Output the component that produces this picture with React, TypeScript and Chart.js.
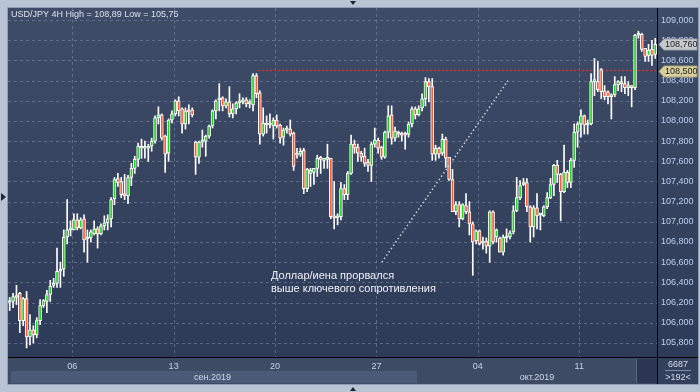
import React, { useEffect, useRef } from 'react';
import { Chart, registerables } from 'chart.js';

Chart.register(...registerables);

// ---- data (USD/JPY 4H, 192 visible bars) ----
const opens = [
  106.20, 106.21, 106.25, 106.29, 106.02, 106.24, 105.86, 105.93, 105.88, 106.02,
  106.17, 106.21, 106.28, 106.37, 106.39, 106.51, 106.53, 106.85, 106.92, 106.92,
  107.02, 106.94, 107.03, 106.83, 106.84, 106.88, 106.93, 106.88, 106.96, 106.99,
  107.03, 107.23, 107.43, 107.40, 107.28, 107.26, 107.44, 107.53, 107.62, 107.74,
  107.73, 107.73, 107.75, 107.80, 108.03, 108.06, 107.85, 107.68, 108.01, 108.07,
  108.20, 108.12, 107.97, 108.10, 108.11, 107.79, 107.64, 107.79, 107.80, 107.85,
  107.95, 108.10, 108.21, 108.23, 108.15, 108.19, 108.07, 108.12, 108.18, 108.19,
  108.21, 108.17, 108.16, 108.45, 108.28, 107.87, 107.98, 107.96, 107.95, 108.01,
  107.96, 107.84, 107.91, 107.92, 107.88, 107.67, 107.67, 107.71, 107.33, 107.48,
  107.49, 107.53, 107.63, 107.61, 107.62, 107.63, 107.06, 107.04, 107.05, 107.33,
  107.27, 107.48, 107.77, 107.74, 107.68, 107.65, 107.59, 107.56, 107.77, 107.81,
  107.74, 107.64, 107.89, 108.06, 107.83, 107.88, 107.88, 107.88, 107.87, 107.97,
  108.12, 108.06, 108.13, 108.22, 108.39, 108.34, 107.67, 107.73, 107.68, 107.82,
  107.64, 107.42, 107.10, 107.17, 107.03, 107.16, 107.10, 106.98, 106.81, 106.91,
  106.79, 106.81, 106.76, 107.10, 106.85, 106.84, 106.70, 106.84, 106.85, 106.90,
  107.11, 107.24, 107.37, 107.39, 107.15, 106.95, 107.14, 107.07, 107.06, 107.15,
  107.24, 107.37, 107.56, 107.47, 107.30, 107.49, 107.39, 107.61, 107.89, 107.97,
  108.05, 107.96, 107.97, 108.39, 108.39, 108.51, 108.30, 108.29, 108.24, 108.26,
  108.36, 108.39, 108.37, 108.33, 108.34, 108.33, 108.85, 108.86, 108.72, 108.65,
  108.71, 108.66,
];
const highs = [
  106.25, 106.29, 106.37, 106.30, 106.25, 106.31, 106.08, 105.97, 106.05, 106.23,
  106.23, 106.32, 106.42, 106.44, 106.74, 106.60, 106.92, 107.22, 107.01, 107.08,
  107.08, 107.04, 107.07, 106.92, 106.92, 107.01, 106.95, 106.98, 107.06, 107.07,
  107.24, 107.44, 107.48, 107.44, 107.47, 107.46, 107.58, 107.65, 107.78, 107.82,
  107.80, 107.77, 107.83, 108.05, 108.14, 108.07, 107.86, 108.02, 108.10, 108.21,
  108.24, 108.13, 108.13, 108.16, 108.13, 107.80, 107.80, 107.91, 107.86, 107.96,
  108.11, 108.21, 108.37, 108.24, 108.22, 108.34, 108.17, 108.19, 108.27, 108.23,
  108.23, 108.21, 108.47, 108.47, 108.30, 108.13, 108.05, 108.07, 108.03, 108.06,
  107.97, 107.93, 107.95, 108.01, 107.89, 107.73, 107.73, 107.73, 107.53, 107.53,
  107.53, 107.66, 107.65, 107.63, 107.77, 107.63, 107.40, 107.08, 107.39, 107.37,
  107.50, 107.86, 107.81, 107.77, 107.70, 107.73, 107.62, 107.79, 107.93, 107.83,
  107.75, 107.90, 108.15, 108.15, 107.94, 107.90, 107.89, 107.89, 107.99, 108.14,
  108.14, 108.15, 108.27, 108.43, 108.42, 108.42, 107.76, 107.74, 107.87, 107.84,
  107.64, 107.52, 107.20, 107.20, 107.18, 107.28, 107.20, 107.00, 106.92, 106.92,
  106.85, 106.84, 107.11, 107.11, 106.93, 106.85, 106.87, 106.93, 106.91, 107.16,
  107.44, 107.41, 107.43, 107.43, 107.16, 107.16, 107.28, 107.08, 107.16, 107.29,
  107.43, 107.57, 107.61, 107.48, 107.76, 107.51, 107.63, 107.97, 107.99, 108.11,
  108.06, 108.01, 108.47, 108.62, 108.59, 108.52, 108.35, 108.30, 108.27, 108.44,
  108.40, 108.44, 108.44, 108.39, 108.35, 108.86, 108.89, 108.87, 108.72, 108.76,
  108.80, 108.82,
];
const lows = [
  106.12, 106.15, 106.18, 105.90, 105.97, 105.75, 105.78, 105.80, 105.85, 105.98,
  106.15, 106.10, 106.21, 106.35, 106.35, 106.35, 106.46, 106.78, 106.86, 106.92,
  106.92, 106.93, 106.70, 106.60, 106.80, 106.87, 106.74, 106.87, 106.92, 106.92,
  106.95, 107.17, 107.35, 107.24, 107.22, 107.18, 107.36, 107.48, 107.55, 107.63,
  107.63, 107.60, 107.70, 107.78, 107.97, 107.81, 107.49, 107.60, 107.98, 108.05,
  108.05, 107.88, 107.92, 107.97, 108.04, 107.47, 107.58, 107.74, 107.65, 107.83,
  107.93, 108.02, 108.10, 108.10, 108.13, 108.04, 108.03, 108.07, 108.13, 108.17,
  108.14, 108.13, 108.10, 108.23, 107.77, 107.85, 107.88, 107.93, 107.82, 107.93,
  107.78, 107.76, 107.88, 107.85, 107.51, 107.63, 107.65, 107.28, 107.30, 107.35,
  107.37, 107.45, 107.48, 107.53, 107.53, 107.03, 106.93, 106.97, 107.02, 107.22,
  107.22, 107.47, 107.68, 107.60, 107.60, 107.55, 107.50, 107.40, 107.74, 107.68,
  107.62, 107.63, 107.83, 107.77, 107.80, 107.84, 107.80, 107.72, 107.84, 107.94,
  108.02, 108.05, 108.10, 108.15, 108.19, 107.61, 107.61, 107.63, 107.66, 107.54,
  107.41, 107.10, 107.07, 106.95, 107.02, 107.08, 106.87, 106.47, 106.78, 106.77,
  106.73, 106.69, 106.60, 106.78, 106.80, 106.70, 106.67, 106.80, 106.83, 106.88,
  107.10, 107.22, 107.36, 107.10, 106.80, 106.85, 106.93, 106.92, 107.05, 107.13,
  107.23, 107.26, 107.39, 107.01, 107.29, 107.34, 107.34, 107.54, 107.74, 107.84,
  107.87, 107.87, 107.96, 108.25, 108.29, 108.22, 108.21, 108.17, 108.02, 108.24,
  108.30, 108.29, 108.27, 108.25, 108.14, 108.31, 108.82, 108.69, 108.59, 108.59,
  108.55, 108.62,
];
const closes = [
  106.22, 106.26, 106.27, 106.02, 106.24, 105.86, 105.93, 105.88, 106.02, 106.17,
  106.22, 106.28, 106.36, 106.39, 106.51, 106.52, 106.85, 106.92, 106.93, 107.02,
  106.94, 107.02, 106.82, 106.84, 106.90, 106.93, 106.88, 106.96, 106.99, 107.03,
  107.22, 107.42, 107.39, 107.27, 107.26, 107.44, 107.53, 107.62, 107.75, 107.73,
  107.74, 107.75, 107.80, 108.03, 108.06, 107.83, 107.67, 108.01, 108.07, 108.20,
  108.10, 107.97, 108.10, 108.09, 108.06, 107.64, 107.79, 107.80, 107.85, 107.95,
  108.10, 108.20, 108.22, 108.15, 108.19, 108.07, 108.12, 108.18, 108.19, 108.20,
  108.17, 108.18, 108.45, 108.27, 107.87, 107.98, 107.96, 107.97, 108.01, 107.95,
  107.83, 107.91, 107.92, 107.87, 107.55, 107.66, 107.70, 107.33, 107.52, 107.51,
  107.53, 107.63, 107.62, 107.62, 107.63, 107.05, 107.04, 107.05, 107.33, 107.27,
  107.48, 107.77, 107.73, 107.68, 107.64, 107.58, 107.56, 107.77, 107.81, 107.73,
  107.64, 107.89, 108.05, 107.83, 107.90, 107.87, 107.86, 107.86, 107.97, 108.12,
  108.06, 108.12, 108.22, 108.39, 108.34, 107.67, 107.73, 107.67, 107.82, 107.63,
  107.42, 107.10, 107.17, 107.03, 107.17, 107.10, 106.98, 106.80, 106.91, 106.78,
  106.80, 106.76, 107.10, 106.80, 106.92, 106.70, 106.85, 106.85, 106.89, 107.11,
  107.24, 107.36, 107.39, 107.15, 106.95, 107.14, 107.06, 107.08, 107.15, 107.24,
  107.37, 107.56, 107.47, 107.30, 107.49, 107.39, 107.61, 107.89, 107.97, 108.05,
  107.96, 107.97, 108.39, 108.40, 108.31, 108.29, 108.24, 108.24, 108.26, 108.36,
  108.39, 108.37, 108.33, 108.34, 108.33, 108.85, 108.86, 108.71, 108.64, 108.70,
  108.65, 108.76,
];

const xTickIndex = [19, 49, 79, 109, 139, 169];
const xTickLabels = ['06', '13', '20', '27', '04', '11'];
const yTicks = [105.8, 106.0, 106.2, 106.4, 106.6, 106.8, 107.0, 107.2, 107.4, 107.6, 107.8, 108.0, 108.2, 108.4, 108.6, 108.8, 109.0];
const months = ['сен.2019', 'окт.2019'];
const monthStarts = [-0.5, 120.5];
const titleText = 'USD/JPY 4H High = 108,89 Low = 105,75';
const resistance = 108.5;
const resistanceFrom = 73.5;
const trendFrom = [110.1, 106.6];
const trendTo = [147.4, 108.4];
const noteLines = ['Доллар/иена прорвался', 'выше ключевого сопротивления'];
const noteAt = [77.3, 106.43];
const totalBars = '6687';
const visibleBars = '>192<';
const yMin = 105.66;
const yMax = 109.12;

const FONT = "'Liberation Sans', Arial, sans-serif";
const GREEN = '#1ed41e';
const RED = '#ff5a32';
const fmt = (v: number) => v.toFixed(3).replace('.', ',');

const decor = {
  id: 'decor',
  beforeDraw(chart: any) {
    const { ctx, chartArea: a, width, height } = chart;
    const xs = chart.scales.x;
    const ys = chart.scales.y;
    ctx.save();
    const g = ctx.createLinearGradient(0, 0, 0, a.bottom);
    g.addColorStop(0, '#3f4c67');
    g.addColorStop(1, '#2e3b58');
    ctx.fillStyle = g;
    ctx.fillRect(0, 0, width, a.bottom);
    ctx.fillStyle = '#3e4b65';
    ctx.fillRect(0, a.bottom, width, height - a.bottom);
    months.forEach((m, k) => {
      const x0 = Math.max(a.left + 3, xs.getPixelForValue(monthStarts[k]));
      const x1 = k + 1 < months.length ? xs.getPixelForValue(monthStarts[k + 1]) : a.right;
      ctx.fillStyle = k % 2 === 0 ? '#4b5a77' : '#3e4b65';
      ctx.fillRect(x0, a.bottom + 14, x1 - x0, height - a.bottom - 15);
    });
    ctx.strokeStyle = 'rgba(140,158,190,0.45)';
    ctx.lineWidth = 1;
    ctx.setLineDash([3, 3]);
    ctx.beginPath();
    yTicks.forEach((v) => {
      const y = Math.round(ys.getPixelForValue(v)) + 0.5;
      ctx.moveTo(a.left, y);
      ctx.lineTo(a.right, y);
    });
    xTickIndex.forEach((i) => {
      const x = Math.round(xs.getPixelForValue(i - 0.5)) + 0.5;
      ctx.moveTo(x, a.top);
      ctx.lineTo(x, a.bottom);
    });
    ctx.stroke();
    ctx.restore();
  },
  beforeDatasetsDraw(chart: any) {
    const { ctx, chartArea: a } = chart;
    const xs = chart.scales.x;
    const ys = chart.scales.y;
    ctx.save();
    ctx.strokeStyle = '#c83232';
    ctx.lineWidth = 1.5;
    ctx.setLineDash([2, 2]);
    const y = ys.getPixelForValue(resistance);
    ctx.beginPath();
    ctx.moveTo(xs.getPixelForValue(resistanceFrom), y);
    ctx.lineTo(a.right, y);
    ctx.stroke();
    ctx.restore();
  },
  afterDraw(chart: any) {
    const { ctx, chartArea: a, width, height } = chart;
    const xs = chart.scales.x;
    const ys = chart.scales.y;
    ctx.save();
    ctx.strokeStyle = '#c9d0dc';
    ctx.lineWidth = 1.5;
    ctx.setLineDash([1.5, 2.5]);
    ctx.beginPath();
    ctx.moveTo(xs.getPixelForValue(trendFrom[0]), ys.getPixelForValue(trendFrom[1]));
    ctx.lineTo(xs.getPixelForValue(trendTo[0]), ys.getPixelForValue(trendTo[1]));
    ctx.stroke();
    ctx.setLineDash([]);
    ctx.fillStyle = '#eef2f8';
    ctx.font = `11px ${FONT}`;
    ctx.textBaseline = 'alphabetic';
    ctx.textAlign = 'left';
    const nx = xs.getPixelForValue(noteAt[0]);
    const ny = ys.getPixelForValue(noteAt[1]);
    noteLines.forEach((t, k) => ctx.fillText(t, nx, ny + k * 12.7));
    ctx.fillStyle = '#d8e0ee';
    ctx.font = `9px ${FONT}`;
    ctx.textBaseline = 'middle';
    ctx.fillText(titleText, 3, 7);
    ctx.fillStyle = '#000000';
    ctx.fillRect(0, a.bottom, width, 1);
    ctx.fillRect(a.right, 0, 1, height);
    ctx.fillStyle = '#2b3752';
    ctx.fillRect(a.right - 20, a.bottom + 2, 20, height - a.bottom - 3);
    ctx.fillStyle = '#5a6883';
    ctx.fillRect(a.right - 21, a.bottom + 2, 1, height - a.bottom - 3);
    ctx.fillStyle = '#34415d';
    ctx.fillRect(a.right + 1, a.bottom + 1, width - a.right - 1, height - a.bottom - 1);
    const cx = a.right + 21;
    ctx.fillStyle = '#d2dcec';
    ctx.textAlign = 'center';
    ctx.font = `9px ${FONT}`;
    ctx.fillText(totalBars, cx, a.bottom + 8);
    ctx.fillText(visibleBars, cx, a.bottom + 21);
    ctx.fillStyle = '#7f8ea8';
    ctx.fillRect(cx - 13, a.bottom + 13, 26, 1);
    ctx.fillStyle = '#cdd7ea';
    months.forEach((m, k) => {
      const x0 = xs.getPixelForValue(monthStarts[k]);
      const x1 = k + 1 < months.length ? xs.getPixelForValue(monthStarts[k + 1]) : a.right;
      ctx.fillText(m, (Math.max(x0, a.left) + x1) / 2, a.bottom + 21);
    });
    const tag = (v: number, bg: string, border: string) => {
      const y = Math.round(ys.getPixelForValue(v));
      const x0 = a.right + 2;
      ctx.beginPath();
      ctx.moveTo(x0, y + 0.5);
      ctx.lineTo(x0 + 5, y - 5);
      ctx.lineTo(width - 1, y - 5);
      ctx.lineTo(width - 1, y + 6);
      ctx.lineTo(x0 + 5, y + 6);
      ctx.closePath();
      ctx.fillStyle = bg;
      ctx.fill();
      ctx.strokeStyle = border;
      ctx.lineWidth = 1;
      ctx.stroke();
      ctx.fillStyle = '#1c1c1c';
      ctx.textAlign = 'left';
      ctx.font = `9px ${FONT}`;
      ctx.fillText(fmt(v), x0 + 6, y + 0.5);
    };
    tag(resistance, '#d8cf9f', '#a89f72');
    tag(closes[closes.length - 1], '#c6cacf', '#9a9fa6');
    ctx.restore();
  },
};

export default function App() {
  const ref = useRef<HTMLCanvasElement | null>(null);
  useEffect(() => {
    if (!ref.current) return;
    const idx = opens.map((_, i) => i);
    const chart = new Chart(ref.current, {
      type: 'bar',
      data: {
        datasets: [
          {
            label: 'body',
            data: idx.map((i) => ({ x: i, y: [opens[i], closes[i]] })) as any,
            backgroundColor: idx.map((i) => (closes[i] >= opens[i] ? GREEN : RED)),
            borderColor: '#ffffff',
            borderWidth: 1,
            borderSkipped: false,
            barThickness: 3,
            minBarLength: 2,
            grouped: false,
            order: 0,
          } as any,
          {
            label: 'wick',
            data: idx.map((i) => ({ x: i, y: [lows[i], highs[i]] })) as any,
            backgroundColor: '#ffffff',
            borderWidth: 0,
            barThickness: 1,
            grouped: false,
            order: 1,
          } as any,
        ],
      },
      options: {
        responsive: false,
        animation: false,
        events: [],
        layout: { padding: 0 },
        plugins: { legend: { display: false }, tooltip: { enabled: false }, title: { display: false } },
        scales: {
          x: {
            type: 'linear',
            min: -0.5,
            max: 191.5,
            offset: false,
            grid: { display: false, drawTicks: false, tickLength: 0 },
            border: { display: false },
            afterBuildTicks: (s: any) => {
              s.ticks = xTickIndex.map((v) => ({ value: v - 0.5 }));
            },
            afterFit: (s: any) => {
              s.height = 27;
              s.paddingLeft = 0;
              s.paddingRight = 0;
            },
            ticks: {
              autoSkip: false,
              maxRotation: 0,
              padding: 4,
              color: '#c6d3ea',
              font: { family: FONT, size: 9 },
              callback: (_v: any, i: number) => xTickLabels[i],
            },
          } as any,
          y: {
            position: 'right',
            min: yMin,
            max: yMax,
            grid: { display: false, drawTicks: false, tickLength: 0 },
            border: { display: false },
            afterBuildTicks: (s: any) => {
              s.ticks = yTicks.map((v) => ({ value: v }));
            },
            afterFit: (s: any) => {
              s.width = 41;
              s.paddingTop = 0;
              s.paddingBottom = 0;
            },
            ticks: {
              padding: 4,
              color: '#bccff0',
              font: { family: FONT, size: 9 },
              callback: (v: any) => fmt(Number(v)),
            },
          } as any,
        },
      },
      plugins: [decor],
    });
    return () => chart.destroy();
  }, []);

  const tri = (style: React.CSSProperties) => <div style={{ position: 'absolute', width: 0, height: 0, ...style }} />;

  return (
    <div style={{ position: 'fixed', left: 0, top: 0, width: 700, height: 392, background: '#b8c3d3', overflow: 'hidden' }}>
      <div style={{ position: 'absolute', left: 7, top: 7, width: 692, height: 378, background: '#8f9bb0' }} />
      <canvas ref={ref} width={690} height={376} style={{ position: 'absolute', left: 8, top: 8, width: 690, height: 376 }} />
      {tri({ left: 350, top: 1, borderLeft: '3px solid transparent', borderRight: '3px solid transparent', borderTop: '4px solid #1e2430' })}
      {tri({ left: 350, top: 387, borderLeft: '3px solid transparent', borderRight: '3px solid transparent', borderBottom: '4px solid #1e2430' })}
      {tri({ left: 1, top: 193, borderTop: '4px solid transparent', borderBottom: '4px solid transparent', borderLeft: '5px solid #1e2430' })}
    </div>
  );
}
